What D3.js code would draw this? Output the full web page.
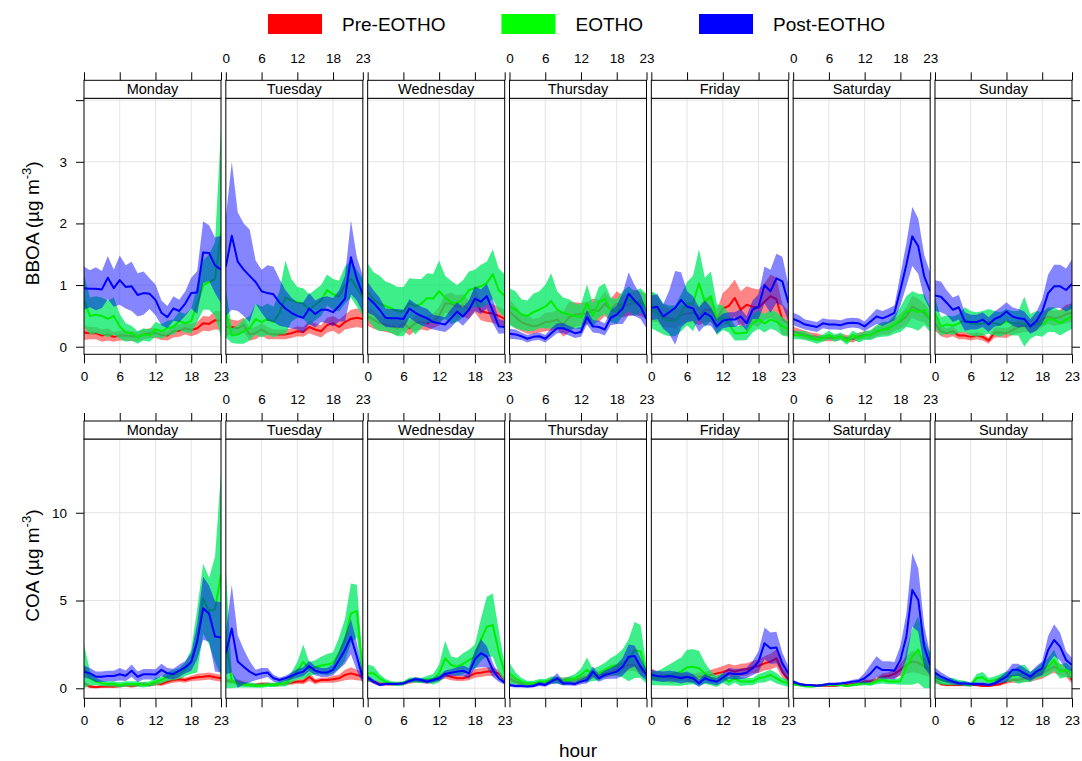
<!DOCTYPE html>
<html>
<head>
  <meta charset="UTF-8">
  <title>BBOA and COA by weekday and hour</title>
  <script src="https://d3js.org/d3.v7.min.js"></script>
  <style>
    body {
      margin: 0;
      padding: 0;
      background: #fff;
      font-family: "Liberation Sans", Arial, sans-serif;
    }
    svg {
      display: block;
    }
    .tick text {
      font-size: 13.5px;
      fill: #000;
    }
    .tick line {
      stroke: #000;
    }
  </style>
</head>
<body>

<script>
  const days = ["Monday", "Tuesday", "Wednesday", "Thursday", "Friday", "Saturday", "Sunday"];
  const hours = [0, 1, 2, 3, 4, 5, 6, 7, 8, 9, 10, 11, 12, 13, 14, 15, 16, 17, 18, 19, 20, 21, 22, 23];
  const hourTicks = [0, 6, 12, 18, 23];
  const groups = ["Pre-EOTHO", "EOTHO", "Post-EOTHO"];

  const bboaTicks = [0, 1, 2, 3, 4];
  const bboaTickLabels = ["0", "1", "2", "3", ""];
  const coaTicks = [0, 5, 10];
  const coaTickLabels = ["0", "5", "10"];

  // hourly means, Monday..Sunday (24 values per day)
  const bboaPre = [
    0.23,0.22,0.22,0.18,0.20,0.16,0.18,0.18,0.17,0.16,0.20,0.22,0.22,0.19,0.18,0.25,0.26,0.30,0.27,0.30,0.38,0.37,0.43,0.42,
    0.32,0.32,0.30,0.35,0.20,0.22,0.28,0.22,0.20,0.20,0.20,0.22,0.25,0.24,0.32,0.28,0.25,0.35,0.38,0.32,0.40,0.45,0.47,0.45,
    0.49,0.44,0.38,0.36,0.34,0.30,0.38,0.30,0.38,0.40,0.38,0.42,0.50,0.70,0.70,0.65,0.67,0.60,0.76,0.58,0.55,0.54,0.50,0.45,
    0.57,0.48,0.40,0.36,0.33,0.35,0.40,0.41,0.44,0.36,0.48,0.52,0.53,0.54,0.60,0.58,0.70,0.60,0.70,0.66,0.68,0.72,0.70,0.65,
    0.65,0.60,0.50,0.46,0.44,0.52,0.54,0.55,0.50,0.60,0.60,0.44,0.62,0.66,0.79,0.60,0.68,0.65,0.63,0.73,0.82,0.77,0.44,0.38,
    0.25,0.22,0.19,0.17,0.16,0.14,0.14,0.14,0.16,0.14,0.12,0.17,0.19,0.19,0.25,0.28,0.30,0.36,0.41,0.49,0.65,0.60,0.55,0.44,
    0.38,0.25,0.22,0.25,0.18,0.18,0.16,0.18,0.16,0.10,0.23,0.23,0.22,0.27,0.32,0.34,0.33,0.36,0.44,0.49,0.46,0.48,0.53,0.55
  ];
  const bboaPreCI = [
    0.12,0.10,0.10,0.10,0.10,0.08,0.08,0.08,0.08,0.08,0.08,0.08,0.08,0.08,0.08,0.10,0.10,0.10,0.10,0.10,0.12,0.12,0.15,0.15,
    0.15,0.12,0.12,0.12,0.10,0.10,0.10,0.10,0.08,0.08,0.08,0.08,0.08,0.08,0.10,0.10,0.10,0.12,0.12,0.12,0.12,0.15,0.15,0.15,
    0.15,0.15,0.12,0.12,0.12,0.12,0.12,0.12,0.12,0.12,0.12,0.12,0.15,0.15,0.18,0.18,0.18,0.15,0.20,0.15,0.15,0.15,0.15,0.15,
    0.20,0.18,0.15,0.15,0.12,0.12,0.15,0.15,0.15,0.20,0.25,0.20,0.18,0.18,0.18,0.18,0.20,0.18,0.20,0.18,0.18,0.20,0.20,0.20,
    0.25,0.20,0.18,0.15,0.15,0.15,0.15,0.15,0.15,0.20,0.20,0.15,0.25,0.30,0.30,0.30,0.30,0.30,0.30,0.30,0.35,0.35,0.25,0.20,
    0.08,0.07,0.07,0.06,0.06,0.05,0.05,0.05,0.05,0.05,0.05,0.06,0.06,0.07,0.08,0.08,0.10,0.10,0.12,0.15,0.18,0.18,0.15,0.15,
    0.12,0.08,0.08,0.08,0.06,0.06,0.06,0.06,0.06,0.05,0.08,0.08,0.08,0.08,0.10,0.10,0.10,0.10,0.12,0.12,0.12,0.12,0.15,0.15
  ];
  const bboaEotho = [
    0.75,0.50,0.52,0.50,0.45,0.50,0.33,0.23,0.22,0.15,0.20,0.18,0.28,0.25,0.30,0.32,0.42,0.38,0.42,0.70,1.00,1.05,1.10,1.85,
    0.55,0.18,0.20,0.25,0.30,0.45,0.40,0.45,0.40,0.55,0.80,0.75,0.72,0.70,0.60,0.68,0.75,0.92,0.85,0.82,1.00,1.10,0.95,0.80,
    0.90,0.76,0.70,0.66,0.62,0.57,0.57,0.71,0.65,0.70,0.79,0.78,0.90,0.80,0.72,0.70,0.78,0.92,0.95,0.98,1.03,1.18,0.92,0.82,
    0.65,0.60,0.52,0.50,0.56,0.60,0.65,0.74,0.60,0.55,0.52,0.50,0.48,0.71,0.50,0.72,0.78,0.60,0.57,0.70,0.78,0.70,0.75,0.65,
    0.60,0.55,0.45,0.42,0.42,0.55,0.70,0.70,1.03,0.72,0.82,0.44,0.47,0.38,0.22,0.22,0.23,0.38,0.44,0.38,0.44,0.41,0.33,0.28,
    0.19,0.19,0.18,0.14,0.11,0.14,0.19,0.14,0.17,0.09,0.19,0.14,0.18,0.19,0.25,0.28,0.29,0.36,0.44,0.57,0.60,0.56,0.60,0.44,
    0.55,0.33,0.36,0.34,0.38,0.44,0.38,0.36,0.38,0.41,0.38,0.36,0.41,0.38,0.38,0.36,0.33,0.38,0.36,0.44,0.44,0.38,0.44,0.49
  ];
  const bboaEothoCI = [
    0.42,0.30,0.30,0.30,0.30,0.30,0.20,0.15,0.12,0.10,0.10,0.10,0.12,0.12,0.12,0.12,0.15,0.15,0.20,0.30,0.40,0.45,0.60,1.70,
    0.40,0.12,0.15,0.20,0.20,0.25,0.25,0.25,0.25,0.35,0.60,0.35,0.25,0.25,0.25,0.25,0.25,0.25,0.25,0.25,0.30,0.30,0.30,0.30,
    0.45,0.45,0.45,0.40,0.40,0.40,0.40,0.40,0.45,0.40,0.40,0.40,0.50,0.35,0.35,0.30,0.30,0.30,0.30,0.35,0.35,0.40,0.35,0.35,
    0.30,0.30,0.25,0.25,0.30,0.30,0.35,0.45,0.30,0.25,0.25,0.20,0.20,0.30,0.20,0.25,0.25,0.20,0.20,0.20,0.20,0.20,0.20,0.20,
    0.30,0.30,0.25,0.25,0.25,0.30,0.35,0.45,0.55,0.40,0.40,0.25,0.20,0.15,0.12,0.12,0.12,0.15,0.15,0.15,0.15,0.15,0.15,0.12,
    0.07,0.07,0.07,0.06,0.06,0.06,0.07,0.06,0.06,0.06,0.07,0.07,0.07,0.08,0.10,0.12,0.12,0.15,0.20,0.25,0.30,0.30,0.25,0.20,
    0.25,0.15,0.15,0.15,0.15,0.20,0.20,0.20,0.20,0.20,0.20,0.20,0.20,0.20,0.20,0.45,0.20,0.20,0.20,0.20,0.20,0.20,0.20,0.20
  ];
  const bboaPost = [
    0.95,0.94,0.94,0.93,1.12,0.95,1.08,0.97,0.98,0.84,0.87,0.86,0.76,0.55,0.48,0.62,0.58,0.70,0.87,0.88,1.53,1.52,1.32,1.25,
    1.30,1.80,1.38,1.25,1.15,1.05,0.90,0.87,0.85,0.72,0.62,0.55,0.50,0.47,0.62,0.53,0.60,0.60,0.56,0.66,0.78,1.45,1.10,0.85,
    0.80,0.71,0.60,0.47,0.46,0.46,0.45,0.62,0.55,0.50,0.46,0.40,0.38,0.36,0.46,0.57,0.49,0.60,0.78,0.73,0.82,0.58,0.33,0.32,
    0.21,0.20,0.17,0.13,0.16,0.17,0.13,0.22,0.30,0.30,0.26,0.22,0.24,0.48,0.33,0.32,0.28,0.47,0.52,0.62,0.86,0.75,0.65,0.45,
    0.63,0.65,0.49,0.56,0.63,0.76,0.65,0.62,0.44,0.55,0.49,0.33,0.42,0.44,0.44,0.49,0.38,0.60,0.65,1.00,0.90,1.11,1.06,0.71,
    0.45,0.41,0.36,0.34,0.32,0.38,0.36,0.36,0.35,0.38,0.39,0.38,0.33,0.41,0.49,0.46,0.50,0.55,0.92,1.33,1.79,1.63,1.14,0.90,
    0.83,0.81,0.71,0.60,0.64,0.41,0.40,0.40,0.44,0.36,0.45,0.49,0.57,0.49,0.46,0.45,0.33,0.41,0.57,0.87,0.98,0.98,0.92,1.02
  ];
  const bboaPostCI = [
    0.35,0.30,0.35,0.30,0.35,0.30,0.40,0.35,0.40,0.35,0.35,0.25,0.25,0.20,0.18,0.20,0.18,0.20,0.25,0.35,0.50,0.45,0.45,0.55,
    0.80,1.20,0.80,0.75,0.75,0.35,0.35,0.45,0.45,0.38,0.30,0.25,0.22,0.25,0.25,0.22,0.20,0.22,0.23,0.25,0.37,0.60,0.35,0.30,
    0.25,0.20,0.20,0.15,0.15,0.15,0.15,0.15,0.15,0.15,0.15,0.12,0.12,0.12,0.15,0.15,0.15,0.15,0.20,0.20,0.20,0.20,0.12,0.10,
    0.08,0.08,0.06,0.06,0.06,0.06,0.06,0.08,0.08,0.08,0.08,0.08,0.08,0.12,0.10,0.10,0.10,0.12,0.15,0.25,0.35,0.25,0.20,0.15,
    0.20,0.20,0.20,0.35,0.60,0.45,0.25,0.20,0.20,0.20,0.15,0.12,0.12,0.12,0.12,0.12,0.12,0.15,0.20,0.30,0.35,0.40,0.40,0.30,
    0.10,0.10,0.08,0.08,0.08,0.08,0.08,0.08,0.08,0.08,0.08,0.08,0.08,0.10,0.12,0.12,0.12,0.12,0.25,0.35,0.48,0.45,0.35,0.30,
    0.25,0.25,0.20,0.20,0.20,0.15,0.12,0.12,0.12,0.12,0.12,0.15,0.15,0.15,0.15,0.12,0.12,0.15,0.20,0.30,0.35,0.35,0.35,0.40
  ];

  const coaPre = [
    0.28,0.10,0.06,0.10,0.10,0.10,0.13,0.19,0.13,0.19,0.25,0.19,0.28,0.25,0.38,0.47,0.51,0.47,0.57,0.63,0.66,0.70,0.63,0.57,
    0.44,0.38,0.38,0.28,0.19,0.19,0.25,0.25,0.19,0.25,0.28,0.32,0.38,0.38,0.66,0.38,0.47,0.47,0.51,0.57,0.76,0.85,0.76,0.66,
    0.57,0.38,0.28,0.25,0.25,0.25,0.28,0.38,0.47,0.42,0.38,0.47,0.57,0.76,0.66,0.57,0.57,0.66,0.85,0.89,0.95,0.95,0.85,0.47,
    0.57,0.38,0.28,0.25,0.25,0.28,0.32,0.47,0.47,0.47,0.51,0.47,0.57,0.66,0.76,0.76,0.85,0.95,1.05,1.20,1.33,1.33,1.05,0.85,
    0.85,0.66,0.66,0.57,0.57,0.70,0.57,0.57,0.66,0.66,0.76,0.85,0.92,1.05,0.95,1.05,1.08,1.20,1.27,1.42,1.52,1.71,0.95,0.47,
    0.28,0.19,0.19,0.15,0.15,0.15,0.15,0.15,0.19,0.19,0.25,0.28,0.38,0.38,0.47,0.66,0.70,0.82,1.05,1.33,1.52,1.46,1.23,1.05,
    0.47,0.25,0.19,0.19,0.19,0.19,0.19,0.19,0.13,0.13,0.19,0.25,0.38,0.47,0.47,0.57,0.57,0.66,0.85,1.05,1.23,1.05,0.95,0.47
  ];
  const coaPreCI = [
    0.15,0.10,0.08,0.08,0.08,0.08,0.08,0.10,0.10,0.10,0.10,0.10,0.12,0.12,0.15,0.15,0.15,0.15,0.15,0.20,0.20,0.20,0.20,0.20,
    0.15,0.12,0.12,0.10,0.10,0.10,0.10,0.10,0.10,0.10,0.10,0.12,0.12,0.15,0.25,0.15,0.15,0.15,0.20,0.20,0.30,0.35,0.30,0.25,
    0.15,0.12,0.10,0.10,0.10,0.10,0.10,0.12,0.15,0.12,0.12,0.15,0.15,0.20,0.20,0.15,0.15,0.20,0.25,0.25,0.25,0.25,0.20,0.15,
    0.20,0.15,0.12,0.10,0.10,0.10,0.12,0.15,0.15,0.15,0.15,0.15,0.15,0.20,0.20,0.20,0.25,0.25,0.30,0.30,0.35,0.35,0.30,0.25,
    0.30,0.25,0.25,0.25,0.25,0.25,0.25,0.25,0.25,0.25,0.30,0.30,0.35,0.35,0.35,0.35,0.35,0.35,0.40,0.40,0.45,0.50,0.35,0.25,
    0.10,0.08,0.08,0.06,0.06,0.06,0.06,0.06,0.06,0.08,0.08,0.10,0.12,0.12,0.15,0.20,0.20,0.25,0.35,0.50,0.60,0.60,0.50,0.40,
    0.15,0.10,0.08,0.08,0.08,0.08,0.08,0.08,0.06,0.06,0.08,0.10,0.12,0.15,0.15,0.20,0.20,0.20,0.30,0.30,0.35,0.35,0.30,0.20
  ];
  const coaEotho = [
    1.20,0.57,0.38,0.28,0.25,0.25,0.19,0.25,0.25,0.25,0.19,0.25,0.38,0.47,0.66,0.76,0.85,1.08,1.52,2.70,5.10,4.40,4.50,6.50,
    2.80,0.40,0.25,0.20,0.19,0.15,0.15,0.19,0.19,0.25,0.30,0.60,1.00,1.50,1.10,1.20,1.30,1.35,1.45,2.00,2.75,4.27,4.40,0.85,
    0.85,0.85,0.57,0.38,0.28,0.25,0.28,0.47,0.47,0.44,0.51,0.51,0.85,1.71,1.33,1.23,1.39,1.60,1.80,2.75,3.51,3.60,2.10,0.85,
    0.85,0.57,0.38,0.28,0.28,0.38,0.38,0.47,0.47,0.38,0.47,0.57,0.76,1.05,0.76,0.85,1.05,1.23,1.33,1.42,1.60,2.18,2.10,0.76,
    0.57,0.57,0.66,0.76,0.85,0.95,1.20,1.23,1.14,0.85,0.57,0.38,0.60,0.38,0.57,0.38,0.38,0.38,0.57,0.63,0.76,0.57,0.38,0.28,
    0.25,0.19,0.13,0.10,0.13,0.19,0.19,0.19,0.19,0.13,0.19,0.25,0.28,0.25,0.38,0.47,0.38,0.38,0.40,1.20,1.80,2.20,1.30,1.00,
    0.57,0.47,0.38,0.38,0.32,0.28,0.19,0.57,0.63,0.38,0.47,0.57,0.66,0.70,0.76,0.85,0.66,0.85,1.05,1.23,1.61,0.95,1.05,0.85
  ];
  const coaEothoCI = [
    1.30,0.40,0.20,0.15,0.15,0.15,0.15,0.15,0.15,0.15,0.15,0.15,0.20,0.20,0.25,0.30,0.30,0.40,0.70,1.80,2.00,1.90,3.00,5.80,
    4.00,0.50,0.20,0.15,0.15,0.12,0.12,0.12,0.12,0.15,0.20,0.30,0.50,1.00,0.40,0.40,0.50,0.60,0.60,0.90,1.20,1.70,1.50,0.50,
    0.50,0.40,0.25,0.15,0.12,0.12,0.12,0.15,0.15,0.15,0.20,0.30,0.50,1.00,0.50,0.50,0.60,0.60,0.70,1.20,1.70,1.80,1.20,0.50,
    0.60,0.35,0.20,0.15,0.15,0.15,0.15,0.20,0.20,0.20,0.20,0.25,0.35,0.70,0.35,0.40,0.40,0.50,0.60,0.80,1.20,1.60,1.50,0.50,
    0.40,0.40,0.50,0.60,0.70,0.80,1.00,1.00,1.00,0.60,0.40,0.30,0.30,0.25,0.25,0.25,0.20,0.20,0.25,0.30,0.30,0.30,0.20,0.20,
    0.10,0.08,0.08,0.06,0.06,0.08,0.08,0.08,0.08,0.06,0.08,0.10,0.10,0.10,0.15,0.20,0.15,0.15,0.20,1.00,1.60,1.90,1.50,1.00,
    0.30,0.25,0.20,0.20,0.15,0.15,0.12,0.25,0.30,0.20,0.20,0.25,0.30,0.30,0.50,0.50,0.30,0.30,0.40,0.50,0.60,0.40,0.40,0.30
  ];
  const coaPost = [
    0.95,0.85,0.66,0.66,0.70,0.70,0.80,0.72,1.00,0.66,0.80,0.80,0.78,1.05,0.85,0.82,1.00,1.20,1.50,2.66,4.56,4.25,2.95,2.90,
    2.00,3.40,1.52,1.23,0.95,0.76,0.85,0.90,0.57,0.47,0.57,0.70,0.85,0.95,1.27,1.00,0.90,0.90,1.05,1.60,2.18,2.94,1.80,0.57,
    0.61,0.38,0.19,0.25,0.25,0.25,0.28,0.42,0.51,0.47,0.38,0.47,0.57,0.82,0.89,0.95,1.00,0.85,1.65,2.00,1.80,1.05,0.57,0.32,
    0.19,0.13,0.13,0.10,0.13,0.25,0.19,0.38,0.57,0.28,0.28,0.25,0.38,0.47,0.95,0.57,0.76,0.85,0.95,1.23,1.80,1.84,1.23,0.76,
    0.76,0.70,0.66,0.70,0.66,0.57,0.66,0.57,0.28,0.57,0.44,0.38,0.60,0.85,0.82,0.82,0.89,1.14,1.52,2.56,2.28,2.32,1.42,0.85,
    0.38,0.25,0.19,0.19,0.15,0.19,0.25,0.25,0.28,0.32,0.38,0.42,0.57,0.85,1.23,1.04,1.04,1.00,1.61,2.94,5.60,5.03,2.37,1.33,
    0.89,0.66,0.51,0.38,0.28,0.28,0.25,0.25,0.25,0.19,0.28,0.47,0.66,1.05,1.05,0.85,0.66,0.95,1.14,2.18,2.75,2.37,1.61,1.33
  ];
  const coaPostCI = [
    0.35,0.30,0.30,0.30,0.30,0.30,0.35,0.30,0.35,0.30,0.30,0.30,0.30,0.35,0.30,0.30,0.35,0.35,0.50,1.00,1.80,1.60,2.00,2.00,
    1.20,2.50,1.50,1.00,0.60,0.30,0.30,0.25,0.20,0.15,0.15,0.20,0.25,0.25,0.30,0.25,0.25,0.25,0.30,0.50,0.80,1.00,0.80,0.30,
    0.15,0.12,0.08,0.08,0.08,0.08,0.08,0.10,0.12,0.12,0.12,0.12,0.15,0.20,0.20,0.25,0.30,0.30,0.50,0.80,0.60,0.40,0.20,0.12,
    0.10,0.08,0.08,0.06,0.08,0.12,0.10,0.15,0.30,0.12,0.12,0.12,0.15,0.20,0.30,0.20,0.25,0.30,0.40,0.50,0.70,0.60,0.50,0.30,
    0.30,0.30,0.30,0.30,0.30,0.30,0.30,0.25,0.20,0.25,0.20,0.20,0.25,0.30,0.30,0.30,0.30,0.40,0.60,0.90,0.90,0.90,0.60,0.40,
    0.10,0.08,0.06,0.06,0.06,0.06,0.08,0.08,0.08,0.08,0.10,0.12,0.30,0.50,0.60,0.50,0.50,0.50,0.80,1.30,2.10,1.80,1.20,0.60,
    0.30,0.25,0.20,0.15,0.10,0.10,0.10,0.10,0.10,0.08,0.10,0.20,0.30,0.35,0.35,0.30,0.25,0.30,0.40,0.80,0.90,0.80,0.50,0.40
  ];

  const width = 1082;
  const height = 761;
  const lineColors = ["#ff0000", "#00ee00", "#0000ff"];
  const bandColors = ["#ff0000", "#00e864", "#0000ff"];
  const bandOpacity = [0.48, 0.76, 0.48];

  const rows = [
    { name: "BBOA", top: 98.3, bottom: 354.3, domain: [-0.123, 4.03],
      ticks: bboaTicks, tickLabels: bboaTickLabels,
      mean: [bboaPre, bboaEotho, bboaPost], ci: [bboaPreCI, bboaEothoCI, bboaPostCI] },
    { name: "COA", top: 439, bottom: 698.3, domain: [-0.57, 14.2],
      ticks: coaTicks, tickLabels: coaTickLabels,
      mean: [coaPre, coaEotho, coaPost], ci: [coaPreCI, coaEothoCI, coaPostCI] }
  ];
  const stripH = 18;

  const svg = d3.select("body")
    .append("svg")
    .attr("width", width)
    .attr("height", height)
    .style("font-family", "'Liberation Sans', Arial, sans-serif");

  const xDay = d3.scaleBand()
    .domain(days)
    .range([84, 1072])
    .paddingInner(0.034);
  const xHour = d3.scaleLinear()
    .domain([0, 23])
    .range([0, xDay.bandwidth()]);
  const pw = xDay.bandwidth();

  // legend
  const legend = svg.append("g").attr("transform", "translate(268, 0)");
  let lx = 0;
  groups.forEach((g, i) => {
    legend.append("rect")
      .attr("x", lx).attr("y", 14)
      .attr("width", 54).attr("height", 20)
      .attr("fill", ["#ff0000", "#00ff00", "#0000ff"][i]);
    const t = legend.append("text")
      .attr("x", lx + 74).attr("y", 31)
      .attr("font-size", 19)
      .text(g);
    lx += 74 + t.node().getComputedTextLength() + 56;
  });

  rows.forEach((row, r) => {
    const y = d3.scaleLinear().domain(row.domain).range([row.bottom, row.top]);
    const ph = row.bottom - row.top;

    const clipId = "clip" + r;
    svg.append("clipPath").attr("id", clipId)
      .append("rect").attr("x", 0).attr("y", 0).attr("width", pw).attr("height", ph);

    days.forEach((day, d) => {
      const g = svg.append("g").attr("transform", `translate(${xDay(day)},${row.top})`);
      const yl = d3.scaleLinear().domain(row.domain).range([ph, 0]);

      // grid
      g.selectAll(".hg").data(row.ticks).enter().append("line")
        .attr("x1", 0).attr("x2", pw)
        .attr("y1", v => yl(v)).attr("y2", v => yl(v))
        .attr("stroke", "#e4e4e4").attr("stroke-width", 1);
      g.selectAll(".vg").data([6, 12, 18]).enter().append("line")
        .attr("x1", h => xHour(h)).attr("x2", h => xHour(h))
        .attr("y1", 0).attr("y2", ph)
        .attr("stroke", "#e4e4e4").attr("stroke-width", 1);

      const plot = g.append("g").attr("clip-path", `url(#${clipId})`);
      row.mean.forEach((series, s) => {
        const pts = hours.map(h => {
          const m = series[d * 24 + h];
          const c = row.ci[s][d * 24 + h];
          return { h: h, m: m, lo: Math.max(0, m - c), hi: m + c };
        });
        const area = d3.area()
          .x(p => xHour(p.h))
          .y0(p => yl(p.lo))
          .y1(p => yl(p.hi));
        const line = d3.line()
          .x(p => xHour(p.h))
          .y(p => yl(p.m));
        plot.append("path").datum(pts)
          .attr("d", area)
          .attr("fill", bandColors[s])
          .attr("fill-opacity", bandOpacity[s]);
        plot.append("path").datum(pts)
          .attr("d", line)
          .attr("fill", "none")
          .attr("stroke", lineColors[s])
          .attr("stroke-width", 2)
          .attr("stroke-linejoin", "round");
      });

      // panel frame
      g.append("rect")
        .attr("x", 0).attr("y", 0).attr("width", pw).attr("height", ph)
        .attr("fill", "none").attr("stroke", "#000").attr("stroke-width", 1);

      // strip
      g.append("rect")
        .attr("x", 0).attr("y", -stripH).attr("width", pw).attr("height", stripH)
        .attr("fill", "#fff").attr("stroke", "#000").attr("stroke-width", 1);
      g.append("text")
        .attr("x", pw / 2).attr("y", -4.5)
        .attr("text-anchor", "middle")
        .attr("font-size", 14.5)
        .text(day);

      // x axes: labels alternate between bottom and top
      const bottomAxis = d3.axisBottom(xHour).tickValues(hourTicks)
        .tickSize(9).tickPadding(8)
        .tickFormat(d % 2 === 0 ? d3.format("d") : () => "");
      g.append("g").attr("transform", `translate(0,${ph})`)
        .call(bottomAxis)
        .call(a => a.select(".domain").remove());
      const topAxis = d3.axisTop(xHour).tickValues(hourTicks)
        .tickSize(8).tickPadding(9)
        .tickFormat(d % 2 === 1 ? d3.format("d") : () => "");
      g.append("g").attr("transform", `translate(0,${-stripH})`)
        .call(topAxis)
        .call(a => a.select(".domain").remove());
    });

    // y axes
    const yAxisL = d3.axisLeft(y).tickValues(row.ticks)
      .tickFormat((v, i) => row.tickLabels[i])
      .tickSize(8).tickPadding(9);
    svg.append("g").attr("transform", `translate(${xDay(days[0])},0)`)
      .call(yAxisL)
      .call(a => a.select(".domain").remove());
    const yAxisR = d3.axisRight(y).tickValues(row.ticks)
      .tickFormat(() => "")
      .tickSize(8);
    svg.append("g").attr("transform", `translate(${xDay(days[6]) + pw},0)`)
      .call(yAxisR)
      .call(a => a.select(".domain").remove());

    // y title
    const title = svg.append("text")
      .attr("transform", `translate(39,${(row.top + row.bottom) / 2 - 3}) rotate(-90)`)
      .attr("text-anchor", "middle")
      .attr("font-size", 19);
    title.append("tspan").text(row.name + " (\u00b5g m");
    title.append("tspan").attr("dy", -8).attr("font-size", 13).text("-3");
    title.append("tspan").attr("dy", 8).text(")");
  });

  svg.append("text")
    .attr("x", 578).attr("y", 757)
    .attr("text-anchor", "middle")
    .attr("font-size", 19)
    .text("hour");
</script>

</body>
</html>
